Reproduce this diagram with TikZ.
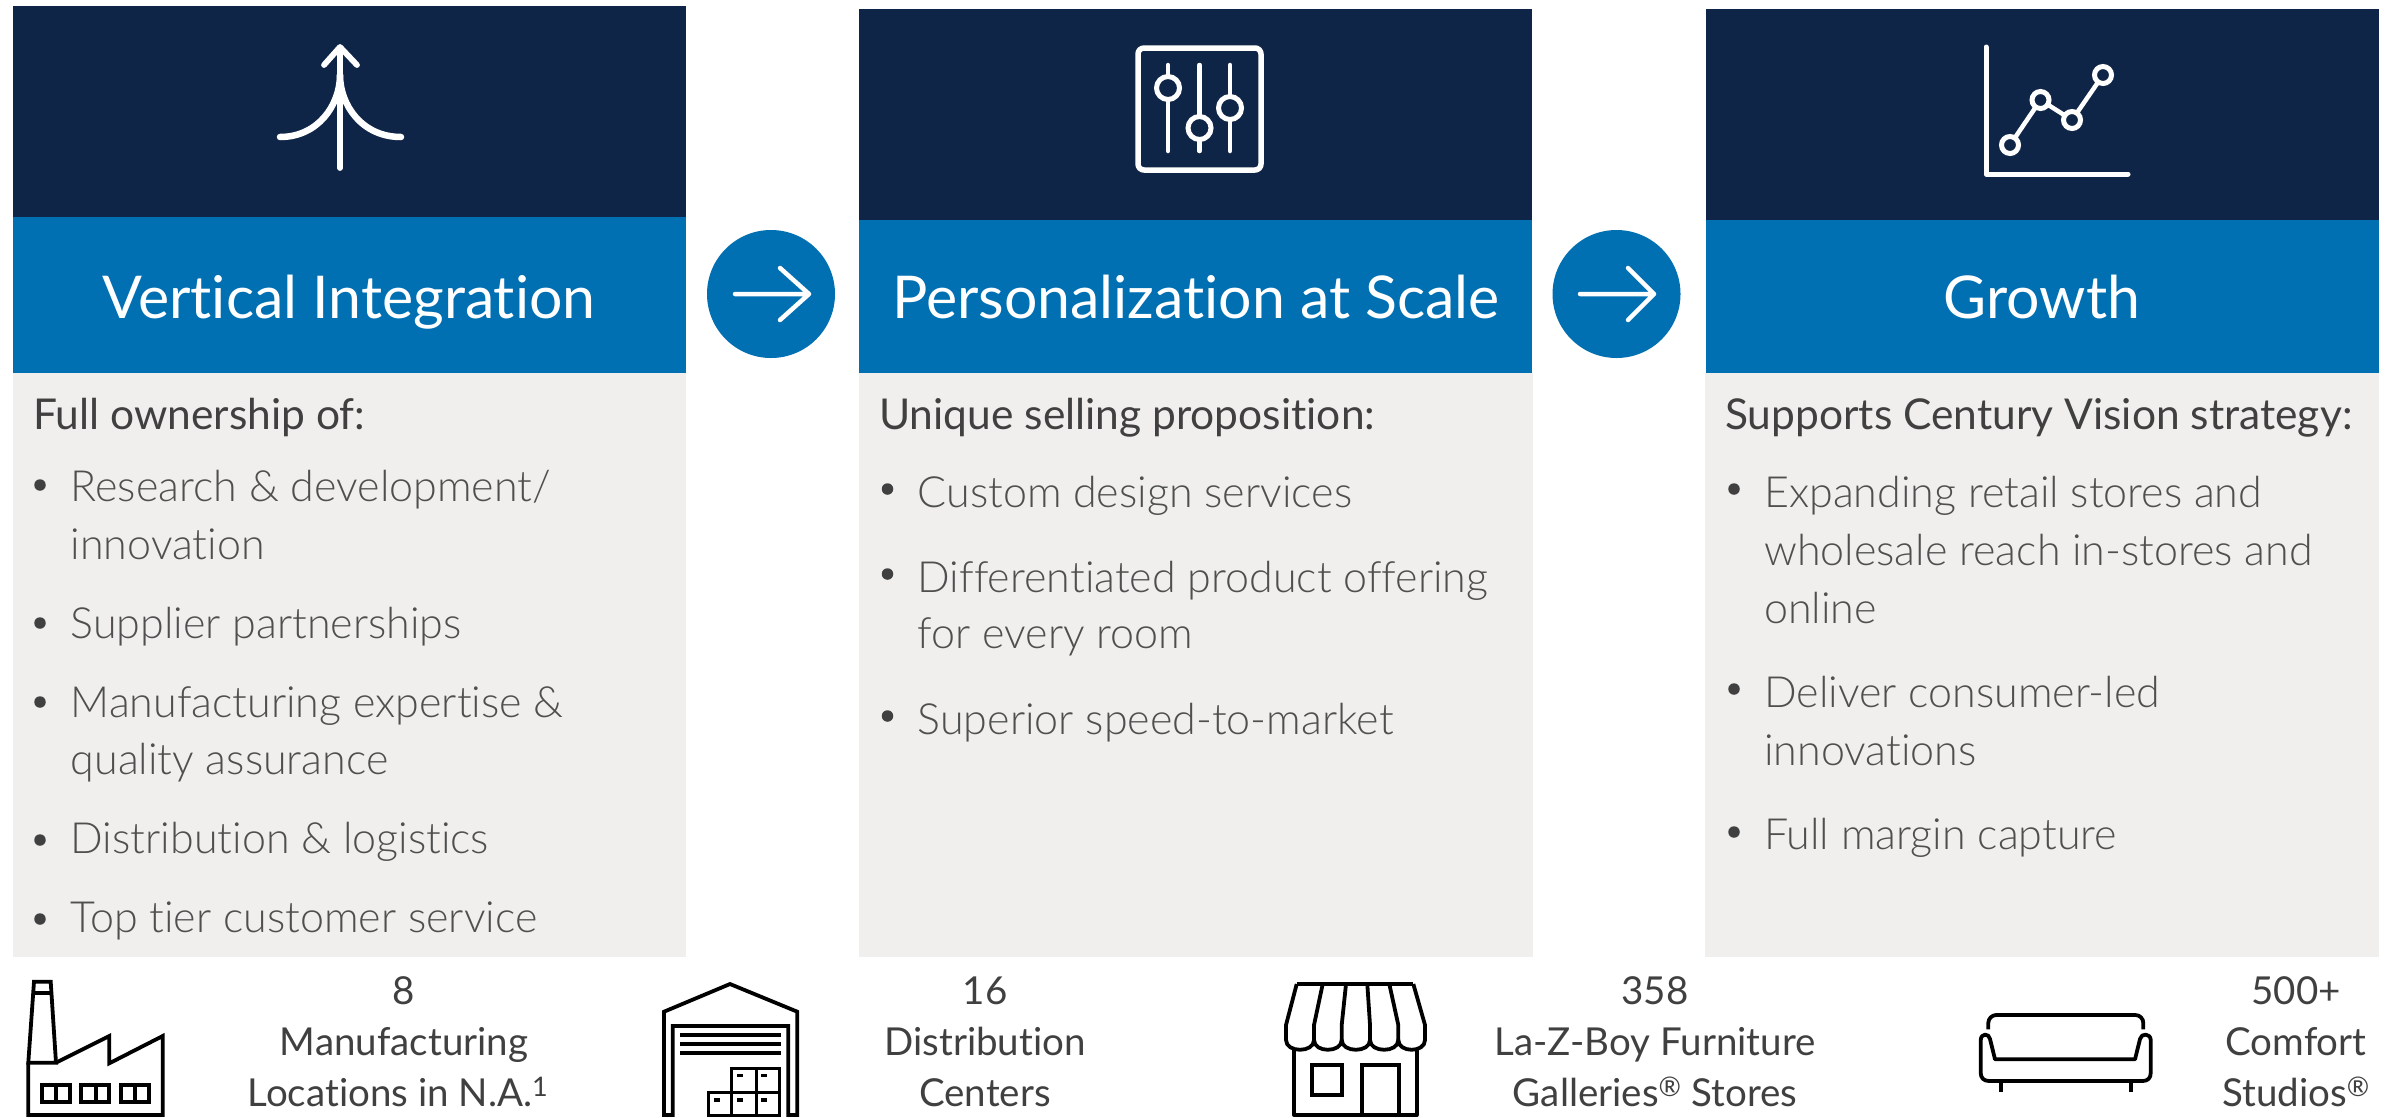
\documentclass[tikz,border=0pt]{standalone}
\usepackage{fontspec}
\setmainfont{Lato}[UprightFont=* Light,Ligatures=NoCommon]
\newfontfamily\headf{Lato}[Ligatures=NoCommon]
\definecolor{navy}{HTML}{0F2547}
\definecolor{bandblue}{HTML}{0070B3}
\definecolor{panelgrey}{HTML}{F0EFED}
\definecolor{txt}{HTML}{404040}
\tikzset{
 heading/.style={anchor=base,inner sep=0pt,text=white,font=\headf\fontsize{59}{59}\selectfont},
 intro/.style={anchor=base west,inner sep=0pt,text=txt,font=\headf\fontsize{42.5}{42.5}\selectfont},
 bodyline/.style={anchor=base west,inner sep=0pt,text=txt!92!white,font=\fontsize{43}{43}\selectfont},
 statline/.style={anchor=base,inner sep=0pt,text=txt,font=\headf\fontsize{38.5}{38.5}\selectfont},
 bulletdot/.style={circle,fill=txt,inner sep=0pt,minimum size=11.5pt},
 bubble/.style={circle,fill=bandblue,inner sep=0pt,minimum size=128pt},
 icon/.style={draw=white,line width=5pt,line cap=round,line join=round},
 knob/.style={circle,draw=white,fill=navy,line width=5pt,inner sep=0pt,minimum size=23pt},
 pict/.style={draw=black,line width=3.8pt,line join=miter},
}
\begin{document}
\begin{tikzpicture}[x=1pt,y=-1pt]
\useasboundingbox[fill=white] (0,0) rectangle (2389,1117);
% panels
\fill[navy] (13,6) rectangle (686,217);
\fill[bandblue] (13,217) rectangle (686,373);
\fill[panelgrey] (13,373) rectangle (686,957);
\fill[navy] (859,9) rectangle (1532,220);
\fill[bandblue] (859,220) rectangle (1532,373);
\fill[panelgrey] (859,373) rectangle (1533,957);
\fill[navy] (1706,9) rectangle (2379,220);
\fill[bandblue] (1706,220) rectangle (2379,373);
\fill[panelgrey] (1705,373) rectangle (2379,957);
% headings
\node[heading] (h1) at (349,318) {Vertical Integration};
\node[heading] (h2) at (1196,318) {Personalization at Scale};
\node[heading] (h3) at (2042,318) {Growth};
% bubbles
\node[bubble] (b1) at (771,294) {};
\node[bubble] (b2) at (1616.5,294) {};
\draw[icon,line width=4.5pt] (735,294) -- (809,294) (780,268) -- (809,294) -- (780,320);
\draw[icon,line width=4.5pt] (1580,294) -- (1654,294) (1628,268) -- (1654,294) -- (1628,320);
% icon 1
\draw[icon,line width=5.8pt] (340,168) -- (340,48);
\draw[icon,line width=5.8pt] (324,65) -- (340,47) -- (357,65);
\draw[icon,line width=6.5pt] (280,137) .. controls (318,137) and (340,105) .. (340,75);
\draw[icon,line width=6.5pt] (401,137) .. controls (362,137) and (340,105) .. (340,75);
% icon 2
\draw[icon,line width=5.5pt,rounded corners=6pt] (1138,48) rectangle (1261,170);
\draw[icon,line width=4.5pt] (1168,65) -- (1168,151) (1199.5,65) -- (1199.5,151) (1230,65) -- (1230,151);
\node[knob] (k1) at (1168,88) {};
\node[knob] (k2) at (1199.5,128) {};
\node[knob] (k3) at (1230,108) {};
% icon 3
\draw[icon] (1986,47) -- (1986,174) -- (2128,174);
\draw[icon,line width=4.5pt] (2010,145) -- (2040.5,100) -- (2072,120) -- (2103,75);
\node[knob,minimum size=17pt] (p1) at (2010,145) {};
\node[knob,minimum size=17pt] (p2) at (2040.5,100) {};
\node[knob,minimum size=17pt] (p3) at (2072,120) {};
\node[knob,minimum size=17pt] (p4) at (2103,75) {};
% text panel 1
\node[intro] (t10) at (33,429) {Full ownership of:};
\node[bulletdot] (d11) at (40,485) {};
\node[bodyline] (t11) at (70.5,501.5) {Research \& development/};
\node[bodyline] (t12) at (70.5,559.5) {innovation};
\node[bulletdot] (d13) at (40,623) {};
\node[bodyline] (t13) at (70.5,638) {Supplier partnerships};
\node[bulletdot] (d14) at (40,702) {};
\node[bodyline] (t14) at (70.5,717) {Manufacturing expertise \&};
\node[bodyline] (t15) at (70.5,774) {quality assurance};
\node[bulletdot] (d16) at (40,840) {};
\node[bodyline] (t16) at (70.5,853) {Distribution \& logistics};
\node[bulletdot] (d17) at (40,919) {};
\node[bodyline] (t17) at (70.5,932) {Top tier customer service};
% text panel 2
\node[intro] (t20) at (879,429) {Unique selling proposition:};
\node[bulletdot] (d21) at (887.5,489) {};
\node[bodyline] (t21) at (917.5,507) {Custom design services};
\node[bulletdot] (d22) at (887.5,574) {};
\node[bodyline] (t22) at (917.5,592) {Differentiated product offering};
\node[bodyline] (t23) at (917.5,648) {for every room};
\node[bulletdot] (d24) at (887.5,716) {};
\node[bodyline] (t24) at (917.5,734) {Superior speed-to-market};
% text panel 3
\node[intro] (t30) at (1725,429) {Supports Century Vision strategy:};
\node[bulletdot] (d31) at (1734,489) {};
\node[bodyline] (t31) at (1764,507) {Expanding retail stores and};
\node[bodyline] (t32) at (1764,565) {wholesale reach in-stores and};
\node[bodyline] (t33) at (1764,623) {online};
\node[bulletdot] (d34) at (1734,689) {};
\node[bodyline] (t34) at (1764,707) {Deliver consumer-led};
\node[bodyline] (t35) at (1764,765) {innovations};
\node[bulletdot] (d36) at (1734,832) {};
\node[bodyline] (t36) at (1764,849) {Full margin capture};
% stats
\node[statline] (s11) at (404,1004) {8};
\node[statline] (s12) at (404,1055) {Manufacturing};
\node[statline] (s13) at (398,1106) {Locations in N.A.\textsuperscript{1}};
\node[statline] (s21) at (985,1004) {16};
\node[statline] (s22) at (985,1055) {Distribution};
\node[statline] (s23) at (985,1106) {Centers};
\node[statline] (s31) at (1655,1004) {358};
\node[statline] (s32) at (1655,1055) {La-Z-Boy Furniture};
\node[statline] (s33) at (1655,1106) {Galleries\textsuperscript{®} Stores};
\node[statline] (s41) at (2296,1004) {500+};
\node[statline] (s42) at (2296,1055) {Comfort};
\node[statline] (s43) at (2296,1106) {Studios\textsuperscript{®}};
% factory
\draw[pict] (34,981.7) -- (50.7,981.7) -- (56,1062.7) -- (28.3,1062.7) -- cycle;
\draw[pict] (32.6,993) -- (51.5,993);
\draw[pict] (56,1062.7) -- (109.3,1036) -- (109.3,1063.3) -- (162.7,1036) -- (162.7,1115) -- (28.3,1115) -- (28.3,1062.7);
\foreach \a/\b/\c in {41.7/56/70,81/96/109.3,121/135/149.3}{
 \draw[pict] (\a,1085) rectangle (\c,1101.7) (\b,1085) -- (\b,1101.7);
}
% warehouse
\draw[pict] (664,1115) -- (664,1011.7) -- (730,984) -- (797.3,1011.7) -- (797.3,1115) -- (788.3,1115) -- (788.3,1026) -- (672.7,1026) -- (672.7,1115) -- cycle;
\draw[pict] (680,1035) -- (781,1035) (680,1044) -- (781,1044) (680,1052.7) -- (781,1052.7);
\draw[pict,line width=3pt] (731.7,1115) -- (731.7,1068.3) -- (779.3,1068.3) -- (779.3,1115) -- (708.3,1115) -- (708.3,1092.7) -- (779.3,1092.7) (756,1068.3) -- (756,1115);
\foreach \p/\q in {740/1075.7,764/1075.7,717/1100,740/1100,764/1100}{
 \fill[black] (\p-3,\q-1.7) rectangle (\p+3,\q+1.7);
}
% store
\draw[pict,line join=round] (1294,1049) -- (1294,1115) -- (1416.7,1115) -- (1416.7,1049);
\draw[pict] (1311.7,1065) rectangle (1341.7,1095);
\draw[pict] (1361.7,1115) -- (1361.7,1065) -- (1399.3,1065) -- (1399.3,1115);
\draw[pict,line join=round] (1296.7,984) -- (1413.3,984);
\draw[pict,line join=round] (1296.7,984) -- (1286,1025) -- (1286,1040)
  .. controls (1286,1053) and (1314,1053) .. (1314,1040)
  .. controls (1314,1053) and (1341.7,1053) .. (1341.7,1040)
  .. controls (1341.7,1053) and (1370,1053) .. (1370,1040)
  .. controls (1370,1053) and (1398.3,1053) .. (1398.3,1040)
  .. controls (1398.3,1053) and (1425,1053) .. (1425,1040) -- (1425,1025) -- (1413.3,984);
\draw[pict,line join=round] (1322.7,984) -- (1314,1025) -- (1314,1040);
\draw[pict,line join=round] (1346,984) -- (1341.7,1025) -- (1341.7,1040);
\draw[pict,line join=round] (1367.3,984) -- (1370,1025) -- (1370,1040);
\draw[pict,line join=round] (1389.3,984) -- (1398.3,1025) -- (1398.3,1040);
% sofa
\draw[pict,rounded corners=8pt] (1988.3,1029.3) -- (1988.3,1015) -- (2143.3,1015) -- (2143.3,1029.3);
\draw[pict,line join=round] (1995,1059.3) -- (1990,1039) .. controls (1989,1033) and (1981,1033) .. (1980.7,1040) -- (1980.7,1073) .. controls (1980.7,1078) and (1984,1081) .. (1989,1081) -- (2142.7,1081) .. controls (2147.7,1081) and (2150.7,1078) .. (2150.7,1073) -- (2150.7,1040) .. controls (2150.5,1033) and (2141,1033) .. (2140,1039) -- (2135,1059.3) -- cycle;
\draw[pict] (2000.7,1081) -- (2000.7,1092) (2131,1081) -- (2131,1092);
\end{tikzpicture}
\end{document}
